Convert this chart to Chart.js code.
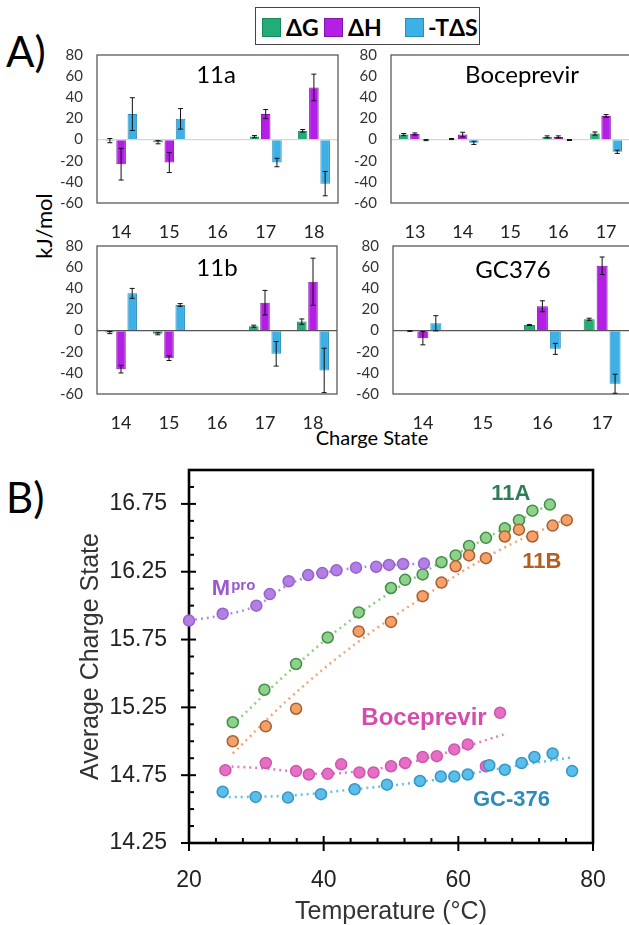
<!DOCTYPE html>
<html lang="en">
<head>
<meta charset="UTF-8">
<title>Binding thermodynamics and average charge state</title>
<script src="https://cdn.jsdelivr.net/npm/chart.js@4.4.0/dist/chart.umd.min.js"></script>
<style>
  html, body { margin: 0; padding: 0; background: #fff; }
  body { width: 629px; height: 925px; position: relative; overflow: hidden; font-family: Lato, sans-serif; }
  canvas { position: absolute; }
  .txt { position: absolute; white-space: nowrap; color: #000; line-height: 1; }
  .sw { position: absolute; width: 17px; height: 17px; top: 18px; }
</style>
</head>
<body>

<div class="txt" style="left:6px;top:30px;font-size:42px;">A)</div>
<div class="txt" style="left:6px;top:476px;font-size:42px;">B)</div>

<!-- legend for panel A -->
<div style="position:absolute;left:255px;top:7px;width:223px;height:36px;border:1.5px solid #444;"></div>
<div class="sw" style="left:262px;background:#22ad78;border:1px solid #17875b;"></div>
<div class="txt" style="left:286px;top:16px;font-size:23px;font-weight:bold;">ΔG</div>
<div class="sw" style="left:324px;background:#b41fe6;border:1px solid #8216a8;"></div>
<div class="txt" style="left:348px;top:16px;font-size:23px;font-weight:bold;">ΔH</div>
<div class="sw" style="left:405px;background:#3db1e5;border:1px solid #2a8dbf;"></div>
<div class="txt" style="left:428px;top:16px;font-size:23px;font-weight:bold;">-TΔS</div>

<div class="txt" style="left:44px;top:226px;font-size:22px;transform:translate(-50%,-50%) rotate(-90deg);">kJ/mol</div>
<div class="txt" style="left:372px;top:437px;font-size:20px;transform:translate(-50%,-50%);">Charge State</div>

<canvas id="p11a" width="345" height="200" style="left:0;top:40px;"></canvas>
<canvas id="pBoc" width="300" height="200" style="left:345px;top:40px;"></canvas>
<canvas id="p11b" width="345" height="200" style="left:0;top:231px;"></canvas>
<canvas id="pGC" width="300" height="200" style="left:345px;top:231px;"></canvas>
<canvas id="pTemp" width="629" height="465" style="left:0;top:460px;"></canvas>

<script>
// ---- panel A data (kJ/mol) ----
const charge11 = ['14', '15', '16', '17', '18'];
const chargeBoc = ['13', '14', '15', '16', '17'];
const chargeGC = ['14', '15', '16', '17'];

const dG11a = [-1, -2.5, null, 2.8, 8.3];
const dG11aErr = [2, 1.5, null, 1, 1.2];
const dH11a = [-23.3, -21.7, null, 24.1, 49.3];
const dH11aErr = [15, 9.5, null, 4.3, 12.6];
const tds11a = [24.1, 19.6, null, -21.7, -41.7];
const tds11aErr = [15.5, 9.7, null, 4, 11.5];

const dGBoc = [4.7, 0.5, null, 2.5, 5.7];
const dGBocErr = [1, 0.5, null, 1, 1.5];
const dHBoc = [5.3, 4.7, null, 2.5, 22.3];
const dHBocErr = [1, 2.2, null, 1, 1.3];
const tdsBoc = [-0.5, -3.1, null, -0.4, -11.6];
const tdsBocErr = [0.5, 1.5, null, 0.5, 1.5];

const dG11b = [-1.9, -3, null, 4.1, 8.5];
const dG11bErr = [1, 1, null, 1, 2.5];
const dH11b = [-36.5, -26.1, null, 26.4, 46.2];
const dH11bErr = [3.6, 2.2, null, 11.6, 22.3];
const tds11b = [35.2, 24.2, null, -22, -37.7];
const tds11bErr = [4.7, 1.3, null, 11.6, 21];

const dGGC = [-0.5, null, 5.3, 10.7];
const dGGCErr = [0.3, null, 0.5, 1];
const dHGC = [-7.2, null, 23, 61.3];
const dHGCErr = [6.3, null, 5.2, 8.3];
const tdsGC = [6.9, null, -17.3, -50.3];
const tdsGCErr = [7.2, null, 5.2, 9];

const kjTicks = [-60, 80, 20]; // min, max, step

// ---- panel B data (temperature in C, average charge state) ----
const tMpro = [20.0, 25.0, 30.0, 32.0, 34.8, 37.7, 39.8, 41.9, 44.8, 47.8, 49.7, 51.8, 54.9];
const zMpro = [15.89, 15.94, 16.00, 16.085, 16.18, 16.225, 16.24, 16.26, 16.28, 16.287, 16.30, 16.307, 16.31];
const t11A = [26.5, 31.2, 35.9, 40.6, 45.2, 50.0, 52.1, 54.7, 57.5, 59.6, 61.6, 64.1, 66.9, 69.0, 71.0, 73.6];
const z11A = [15.14, 15.38, 15.57, 15.765, 15.95, 16.13, 16.19, 16.23, 16.32, 16.37, 16.44, 16.50, 16.57, 16.63, 16.70, 16.745];
const t11B = [26.5, 31.4, 35.9, 45.2, 50.0, 54.7, 57.5, 59.6, 61.6, 64.1, 66.9, 69.0, 71.0, 74.0, 76.1];
const z11B = [15.00, 15.11, 15.24, 15.81, 15.88, 16.07, 16.17, 16.29, 16.37, 16.35, 16.51, 16.56, 16.51, 16.59, 16.63];
const tBoc = [25.4, 31.4, 35.9, 37.8, 40.6, 42.6, 45.3, 47.4, 50.0, 52.1, 54.7, 56.8, 59.4, 61.4, 64.1, 66.2];
const zBoc = [14.787, 14.84, 14.78, 14.755, 14.76, 14.83, 14.77, 14.77, 14.816, 14.84, 14.884, 14.89, 14.94, 14.977, 14.816, 15.21];
const tGC = [25.0, 29.9, 34.7, 39.6, 44.6, 49.4, 54.3, 57.4, 59.4, 61.4, 64.6, 66.9, 69.4, 71.3, 74.0, 76.9];
const zGC = [14.628, 14.59, 14.585, 14.61, 14.646, 14.68, 14.707, 14.74, 14.74, 14.755, 14.823, 14.79, 14.84, 14.884, 14.91, 14.78];

// dotted trend lines
const fitTMpro = [20, 25, 30, 35, 40, 45, 50, 55];
const fitZMpro = [15.89, 15.93, 16.00, 16.16, 16.24, 16.28, 16.30, 16.31];
const fitT11A = [26.5, 35, 45, 55, 65, 73.6];
const fitZ11A = [15.12, 15.52, 15.93, 16.25, 16.52, 16.75];
const fitT11B = [26.5, 35, 45.3, 55, 65, 76];
const fitZ11B = [14.91, 15.32, 15.74, 16.07, 16.38, 16.64];
const fitTBoc = [25.4, 31.2, 35.9, 40, 45.3, 50.5, 55.7, 61, 66.7];
const fitZBoc = [14.816, 14.80, 14.775, 14.76, 14.78, 14.82, 14.88, 14.96, 15.05];
const fitTGC = [25, 34.9, 45.3, 55.7, 66.2, 76.6];
const fitZGC = [14.587, 14.60, 14.65, 14.71, 14.80, 14.88];

// no automatic label padding: the layout padding alone places the plot box
function noPad(sc) { sc.paddingTop = 0; sc.paddingBottom = 0; sc.paddingLeft = 0; sc.paddingRight = 0; }

// ---- plugins ----
const panelBox = {
    id: 'panelBox',
    beforeDatasetsDraw(chart, args, opts) {
        const a = chart.chartArea, ctx = chart.ctx;
        ctx.save();
        ctx.strokeStyle = '#595959';
        ctx.lineWidth = 1.3;
        ctx.strokeRect(a.left, a.top, a.right - a.left, a.bottom - a.top);
        ctx.restore();
    },
    afterDraw(chart, args, opts) {
        const a = chart.chartArea, ctx = chart.ctx;
        ctx.save();
        ctx.font = '24px Lato';
        ctx.fillStyle = '#000';
        ctx.textAlign = 'center';
        ctx.textBaseline = 'middle';
        ctx.fillText(opts.title, a.left + (a.right - a.left) * opts.tx, a.top + opts.ty);
        ctx.restore();
    }
};

const errorBars = {
    id: 'errorBars',
    afterDatasetsDraw(chart) {
        const ctx = chart.ctx, y = chart.scales.y;
        ctx.save();
        ctx.strokeStyle = '#111';
        ctx.lineWidth = 1;
        chart.data.datasets.forEach((ds, i) => {
            const meta = chart.getDatasetMeta(i);
            ds.data.forEach((v, j) => {
                const e = ds.errors[j];
                if (v == null || e == null) return;
                const x = meta.data[j].x;
                const y1 = y.getPixelForValue(v + e), y2 = y.getPixelForValue(v - e);
                ctx.beginPath();
                ctx.moveTo(x, y1); ctx.lineTo(x, y2);
                ctx.moveTo(x - 2.5, y1); ctx.lineTo(x + 2.5, y1);
                ctx.moveTo(x - 2.5, y2); ctx.lineTo(x + 2.5, y2);
                ctx.stroke();
            });
        });
        ctx.restore();
    }
};

function thermoPanel(id, labels, g, gErr, h, hErr, s, sErr, o) {
    new Chart(document.getElementById(id), {
        type: 'bar',
        data: {
            labels: labels,
            datasets: [
                { label: 'ΔG', data: g, errors: gErr, backgroundColor: '#22ad78', borderColor: '#17875b', borderWidth: 1 },
                { label: 'ΔH', data: h, errors: hErr, backgroundColor: '#b41fe6', borderColor: '#8216a8', borderWidth: 1 },
                { label: '-TΔS', data: s, errors: sErr, backgroundColor: '#3db1e5', borderColor: '#2a8dbf', borderWidth: 1 }
            ]
        },
        options: {
            responsive: false,
            animation: false,
            layout: { padding: { left: 0, right: o.padR, top: 15, bottom: 0 } },
            datasets: { bar: { categoryPercentage: o.catPct, barPercentage: 0.85 } },
            scales: {
                x: {
                    grid: { display: false },
                    border: { display: false },
                    ticks: { color: '#222', padding: 12, maxRotation: 0, autoSkip: false,
                        font: { family: 'Lato', size: 18, lineHeight: 1 } },
                    afterFit: sc => { sc.height = 37; noPad(sc); }
                },
                y: {
                    min: kjTicks[0], max: kjTicks[1],
                    border: { display: false },
                    grid: {
                        drawTicks: false,
                        lineWidth: 1.2,
                        color: c => (c.tick && c.tick.value === 0) ? o.zero : 'rgba(0,0,0,0)'
                    },
                    ticks: { stepSize: kjTicks[2], color: '#333', padding: 14, font: { family: 'Lato', size: 15, lineHeight: 1 } },
                    afterFit: sc => { sc.width = o.axisW; noPad(sc); }
                }
            },
            plugins: {
                legend: { display: false },
                tooltip: { enabled: false },
                panelBox: { title: o.title, tx: o.tx, ty: o.ty }
            }
        },
        plugins: [panelBox, errorBars]
    });
}

thermoPanel('p11a', charge11, dG11a, dG11aErr, dH11a, dH11aErr, tds11a, tds11aErr,
    { axisW: 97, padR: 7, catPct: 0.7, zero: '#d6d6d6', title: '11a', tx: 0.494, ty: 20 });
thermoPanel('pBoc', chargeBoc, dGBoc, dGBocErr, dHBoc, dHBocErr, tdsBoc, tdsBocErr,
    { axisW: 46, padR: 15, catPct: 0.7, zero: '#d6d6d6', title: 'Boceprevir', tx: 0.548, ty: 20 });
thermoPanel('p11b', charge11, dG11b, dG11bErr, dH11b, dH11bErr, tds11b, tds11bErr,
    { axisW: 97, padR: 8, catPct: 0.7, zero: '#555', title: '11b', tx: 0.5, ty: 22 });
thermoPanel('pGC', chargeGC, dGGC, dGGCErr, dHGC, dHGCErr, tdsGC, tdsGCErr,
    { axisW: 48, padR: 13, catPct: 0.65, zero: '#555', title: 'GC376', tx: 0.502, ty: 24 });

// ---- panel B ----
const pts = (xs, ys) => xs.map((x, i) => ({ x: x, y: ys[i] }));

function pointSet(label, xs, ys, fill, edge, order) {
    return { label: label, data: pts(xs, ys), backgroundColor: fill, borderColor: edge,
        pointRadius: 5.5, pointBorderWidth: 1.5, showLine: false, order: order, clip: false };
}
function fitSet(xs, ys, col) {
    return { data: pts(xs, ys), borderColor: col, borderWidth: 2.5, borderDash: [2, 4],
        pointRadius: 0, showLine: true, tension: 0.4, order: 10, fill: false };
}

const frameTicks = {
    id: 'frameTicks',
    beforeDatasetsDraw(chart) {
        const a = chart.chartArea, ctx = chart.ctx, xs = chart.scales.x, ys = chart.scales.y;
        ctx.save();
        ctx.strokeStyle = '#000';
        ctx.lineWidth = 2;
        xs.ticks.forEach(t => {
            const px = xs.getPixelForValue(t.value);
            const major = t.value % 20 === 0;
            ctx.beginPath();
            ctx.moveTo(px, major ? a.bottom + 8 : a.bottom);
            ctx.lineTo(px, a.bottom - (major ? 7 : 5));
            ctx.stroke();
        });
        ys.ticks.forEach(t => {
            const py = ys.getPixelForValue(t.value);
            const major = Math.abs(((t.value - 14.25) / 0.5) - Math.round((t.value - 14.25) / 0.5)) < 1e-6;
            ctx.beginPath();
            ctx.moveTo(major ? a.left - 8 : a.left, py);
            ctx.lineTo(a.left + (major ? 7 : 5), py);
            ctx.stroke();
        });
        ctx.lineWidth = 2.6;
        ctx.strokeRect(a.left, a.top, a.right - a.left, a.bottom - a.top);
        ctx.restore();
    },
    afterDatasetsDraw(chart, args, opts) {
        const ctx = chart.ctx, xs = chart.scales.x, ys = chart.scales.y;
        ctx.save();
        ctx.textAlign = 'center';
        ctx.textBaseline = 'middle';
        opts.items.forEach(it => {
            const px = xs.getPixelForValue(it.t), py = ys.getPixelForValue(it.z);
            ctx.fillStyle = it.color;
            ctx.font = 'bold ' + it.size + 'px "Liberation Sans", Arial, sans-serif';
            ctx.fillText(it.text, px, py);
            if (it.sup) {
                const w = ctx.measureText(it.text).width;
                ctx.font = 'bold 15px "Liberation Sans", Arial, sans-serif';
                ctx.textAlign = 'left';
                ctx.fillText(it.sup, px + w / 2 + 1, py - 4);
                ctx.textAlign = 'center';
            }
        });
        ctx.restore();
    }
};

new Chart(document.getElementById('pTemp'), {
    type: 'scatter',
    data: {
        datasets: [
            pointSet('Mpro', tMpro, zMpro, '#b47fe4', '#9760cf', 3),
            pointSet('11A', t11A, z11A, '#8fd18b', '#3e8e46', 4),
            pointSet('11B', t11B, z11B, '#f4a06b', '#a95f2c', 2),
            pointSet('Boceprevir', tBoc, zBoc, '#e66fc6', '#d055b0', 5),
            pointSet('GC-376', tGC, zGC, '#5bbde9', '#3597c7', 1),
            fitSet(fitTMpro, fitZMpro, '#b58ade'),
            fitSet(fitT11A, fitZ11A, '#8ccf7c'),
            fitSet(fitT11B, fitZ11B, '#f2a577'),
            fitSet(fitTBoc, fitZBoc, '#e07ac4'),
            fitSet(fitTGC, fitZGC, '#63c1e6')
        ]
    },
    options: {
        responsive: false,
        animation: false,
        layout: { padding: { left: 0, right: 36, top: 10, bottom: 0 } },
        scales: {
            x: {
                type: 'linear', min: 20, max: 80,
                grid: { display: false },
                border: { display: false },
                ticks: {
                    stepSize: 4, padding: 18, color: '#222', maxRotation: 0, minRotation: 0, autoSkip: false,
                    font: { family: '"Liberation Sans", Arial', size: 23, lineHeight: 1 },
                    callback: v => (v % 20 === 0 ? v : '')
                },
                title: { display: true, text: 'Temperature (°C)', color: '#333',
                    font: { family: '"Liberation Sans", Arial', size: 25, lineHeight: 1 },
                    padding: { top: 0, bottom: 0 } },
                afterFit: sc => { sc.height = 82; noPad(sc); }
            },
            y: {
                min: 14.25, max: 17.0,
                grid: { display: false },
                border: { display: false },
                ticks: {
                    stepSize: 0.125, padding: 14, color: '#222', autoSkip: false,
                    font: { family: '"Liberation Sans", Arial', size: 23, lineHeight: 1 },
                    callback: v => {
                        const k = (v - 14.25) / 0.5;
                        return Math.abs(k - Math.round(k)) < 1e-6 ? v.toFixed(2) : '';
                    }
                },
                title: { display: true, text: 'Average Charge State', color: '#333',
                    font: { family: '"Liberation Sans", Arial', size: 25, lineHeight: 1 },
                    padding: { top: 79, bottom: 0 } },
                afterFit: sc => { sc.width = 189; noPad(sc); }
            }
        },
        plugins: {
            legend: { display: false },
            tooltip: { enabled: false },
            frameTicks: {
                items: [
                    { text: '11A', t: 67.8, z: 16.82, color: '#2c7d58', size: 22 },
                    { text: '11B', t: 72.4, z: 16.32, color: '#b0601f', size: 22 },
                    { text: 'M', sup: 'pro', t: 24.75, z: 16.12, color: '#9b59d0', size: 22 },
                    { text: 'Boceprevir', t: 54.9, z: 15.17, color: '#d64cac', size: 24 },
                    { text: 'GC-376', t: 67.9, z: 14.566, color: '#2b8cbc', size: 22 }
                ]
            }
        }
    },
    plugins: [frameTicks]
});
</script>
</body>
</html>
